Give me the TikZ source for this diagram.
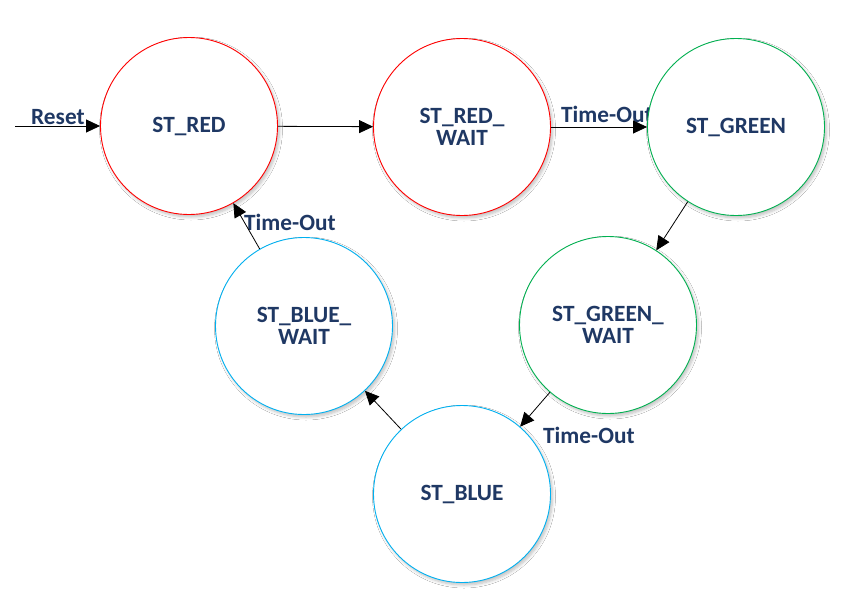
\documentclass[tikz,border=0pt]{standalone}
\usepackage{fontspec}
\setmainfont{Carlito}
\usetikzlibrary{arrows.meta,shadows.blur}
\definecolor{navy}{HTML}{1F3864}
\definecolor{cred}{HTML}{FF0000}
\definecolor{cgreen}{HTML}{00B050}
\definecolor{cblue}{HTML}{00B0F0}
\begin{document}
\begin{tikzpicture}[x=1pt,y=-1pt,
 state/.style={circle, draw=#1, line width=0.9pt, fill=white, minimum size=177pt, inner sep=0pt, align=center,
   font=\fontsize{23.3}{22.5}\selectfont\bfseries, text=navy,
   blur shadow={shadow xshift=2pt, shadow yshift=-2.5pt, shadow blur steps=6, shadow opacity=25, shadow blur radius=3pt}},
 lbl/.style={font=\fontsize{23.3}{23}\selectfont\bfseries, text=navy, inner sep=0pt, anchor=base west},
 arr/.style={-{Triangle[length=14pt,width=13pt]}, line width=0.8pt, black}]
\useasboundingbox[fill=white] (0,0) rectangle (842,613);
% edge labels (behind the circles)
\node[lbl] (lreset) at (31,124) {Reset};
\node[lbl] (lto1) at (561,122) {Time-Out};
\node[lbl] (lto2) at (543,443) {Time-Out};
\node[lbl] (lto3) at (244,230) {Time-Out};
% states
\node[state=cred] (red) at (189,126) {ST\_RED};
\node[state=cred] (redw) at (462,127) {ST\_RED\_\\WAIT};
\node[state=cgreen] (green) at (736,127) {ST\_GREEN};
\node[state=cgreen] (greenw) at (608,325) {ST\_GREEN\_\\WAIT};
\node[state=cblue] (blue) at (462,494) {ST\_BLUE};
\node[state=cblue] (bluew) at (304,326) {ST\_BLUE\_\\WAIT};
% connectors
\coordinate (rs) at (15,126);
\draw[arr] (rs) -- (red);
\draw[arr] (red) -- (redw);
\draw[arr] (redw) -- (green);
\draw[arr] (green) -- (greenw);
\draw[arr] (greenw) -- (blue);
\draw[arr] (blue) -- (bluew);
\draw[arr] (bluew) -- (red);
\end{tikzpicture}
\end{document}
